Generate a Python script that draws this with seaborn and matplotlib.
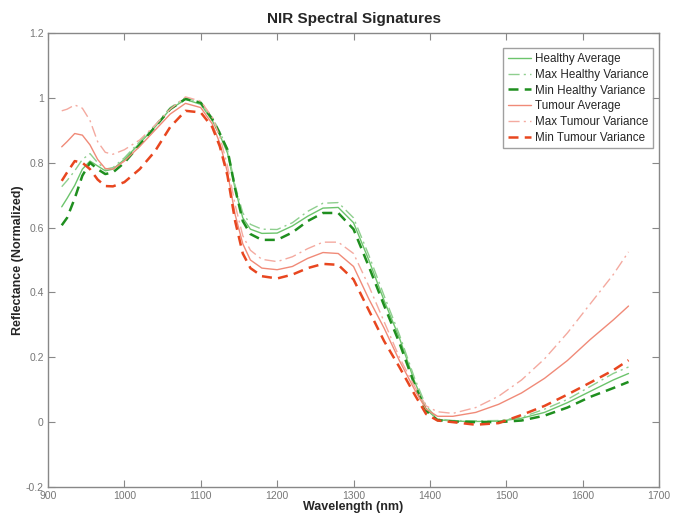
import numpy as np
import pandas as pd
import matplotlib
matplotlib.use("Agg")
import matplotlib.pyplot as plt
import seaborn as sns

wavelength = [918, 925, 935, 945, 955, 965, 975, 985, 1000, 1020, 1040, 1060, 1080, 1100,
              1115, 1125, 1135, 1145, 1155, 1165, 1180, 1200, 1220, 1240, 1260, 1280, 1300,
              1320, 1340, 1360, 1380, 1395, 1410, 1430, 1460, 1490, 1520, 1550, 1580, 1610,
              1640, 1660]

healthy_avg = [0.664, 0.69, 0.73, 0.78, 0.805, 0.79, 0.775, 0.78, 0.81, 0.86, 0.91, 0.965, 0.995, 0.98,
               0.93, 0.885, 0.83, 0.72, 0.63, 0.595, 0.582, 0.583, 0.605, 0.635, 0.66, 0.662, 0.615,
               0.50, 0.375, 0.26, 0.125, 0.04, 0.008, 0.003, 0.002, 0.003, 0.012, 0.03, 0.06, 0.095,
               0.13, 0.15]

max_healthy = [0.726, 0.745, 0.775, 0.81, 0.828, 0.80, 0.78, 0.785, 0.815, 0.865, 0.915, 0.97, 1.0, 0.985,
               0.94, 0.895, 0.84, 0.73, 0.645, 0.61, 0.595, 0.594, 0.615, 0.65, 0.675, 0.677, 0.63,
               0.515, 0.39, 0.27, 0.135, 0.05, 0.01, 0.005, 0.004, 0.005, 0.015, 0.04, 0.07, 0.11,
               0.15, 0.17]

min_healthy = [0.607, 0.63, 0.69, 0.76, 0.80, 0.78, 0.765, 0.77, 0.80, 0.855, 0.91, 0.965, 0.997, 0.985,
               0.935, 0.89, 0.84, 0.72, 0.62, 0.58, 0.562, 0.562, 0.585, 0.62, 0.645, 0.645, 0.595,
               0.48, 0.36, 0.245, 0.115, 0.035, 0.006, 0.002, 0.0, 0.0, 0.005, 0.02, 0.045, 0.078,
               0.105, 0.124]

tumour_avg = [0.849, 0.865, 0.89, 0.885, 0.855, 0.81, 0.782, 0.78, 0.805, 0.85, 0.90, 0.95, 0.983, 0.97,
              0.92, 0.86, 0.77, 0.64, 0.55, 0.50, 0.475, 0.47, 0.48, 0.505, 0.523, 0.52, 0.48,
              0.38, 0.29, 0.19, 0.10, 0.04, 0.018, 0.018, 0.03, 0.055, 0.09, 0.135, 0.19, 0.255,
              0.315, 0.358]

max_tumour = [0.96, 0.965, 0.978, 0.968, 0.93, 0.865, 0.832, 0.826, 0.84, 0.87, 0.915, 0.965, 1.003, 0.99,
              0.94, 0.88, 0.79, 0.67, 0.575, 0.53, 0.502, 0.495, 0.51, 0.535, 0.555, 0.555, 0.52,
              0.42, 0.31, 0.20, 0.11, 0.05, 0.032, 0.027, 0.045, 0.08, 0.13, 0.195, 0.275, 0.365,
              0.455, 0.525]

min_tumour = [0.744, 0.77, 0.805, 0.80, 0.78, 0.748, 0.728, 0.727, 0.74, 0.78, 0.835, 0.91, 0.96, 0.955,
              0.91, 0.85, 0.76, 0.62, 0.52, 0.475, 0.45, 0.443, 0.455, 0.475, 0.488, 0.485, 0.44,
              0.345, 0.25, 0.17, 0.085, 0.025, 0.005, 0.0, -0.008, -0.003, 0.022, 0.05, 0.085, 0.122,
              0.16, 0.191]

series_names = ["Healthy Average", "Max Healthy Variance", "Min Healthy Variance",
                "Tumour Average", "Max Tumour Variance", "Min Tumour Variance"]
series_values = [healthy_avg, max_healthy, min_healthy, tumour_avg, max_tumour, min_tumour]

styles = {
    "Healthy Average": dict(color="#6cc46c", linestyle="-", linewidth=1.0),
    "Max Healthy Variance": dict(color="#8fcf8f", linestyle=(0, (8, 3, 1.5, 3)), linewidth=1.0),
    "Min Healthy Variance": dict(color="#1f8f1f", linestyle=(0, (4, 2.5)), linewidth=1.8),
    "Tumour Average": dict(color="#f08a78", linestyle="-", linewidth=1.0),
    "Max Tumour Variance": dict(color="#f4aaa0", linestyle=(0, (8, 3, 1.5, 3)), linewidth=1.0),
    "Min Tumour Variance": dict(color="#e8461f", linestyle=(0, (4, 2.5)), linewidth=1.8),
}

sns.set_style("white")
plt.rcParams["font.family"] = ["Liberation Sans", "DejaVu Sans"]

fig = plt.figure(figsize=(6.73, 5.13), dpi=100)
ax = fig.add_axes([0.0713, 0.0507, 0.908, 0.885])

for name, vals in zip(series_names, series_values):
    df = pd.DataFrame({"wl": wavelength, "v": vals})
    sns.lineplot(data=df, x="wl", y="v", ax=ax, label=name, **styles[name])

ax.set_xlim(900, 1700)
ax.set_ylim(-0.2, 1.2)
ax.set_xticks(np.arange(900, 1701, 100))
yt = [-0.2, 0, 0.2, 0.4, 0.6, 0.8, 1.0, 1.2]
ax.set_yticks(yt)
ax.set_yticklabels(["-0.2", "0", "0.2", "0.4", "0.6", "0.8", "1", "1.2"])
ax.tick_params(direction="in", length=5, width=0.8, color="#888888", labelcolor="#777777",
               labelsize=7.5, top=True, right=True, bottom=True, left=True, pad=3)
for s in ax.spines.values():
    s.set_color("#888888")
    s.set_linewidth(1.0)

ax.set_title("NIR Spectral Signatures", fontsize=11, fontweight="bold", pad=7)
ax.set_xlabel("Wavelength (nm)", fontsize=9, fontweight="bold", labelpad=0)
ax.set_ylabel("Reflectance (Normalized)", fontsize=9, fontweight="bold", labelpad=1)

leg = ax.legend(loc="upper right", bbox_to_anchor=(0.990, 0.966), borderaxespad=0,
                fontsize=8.4, frameon=True, fancybox=False, handlelength=2.0,
                handletextpad=0.3, labelspacing=0.32, borderpad=0.4)
leg.get_frame().set_edgecolor("#888888")
leg.get_frame().set_linewidth(1.0)

fig.savefig("out.png", dpi=100)
